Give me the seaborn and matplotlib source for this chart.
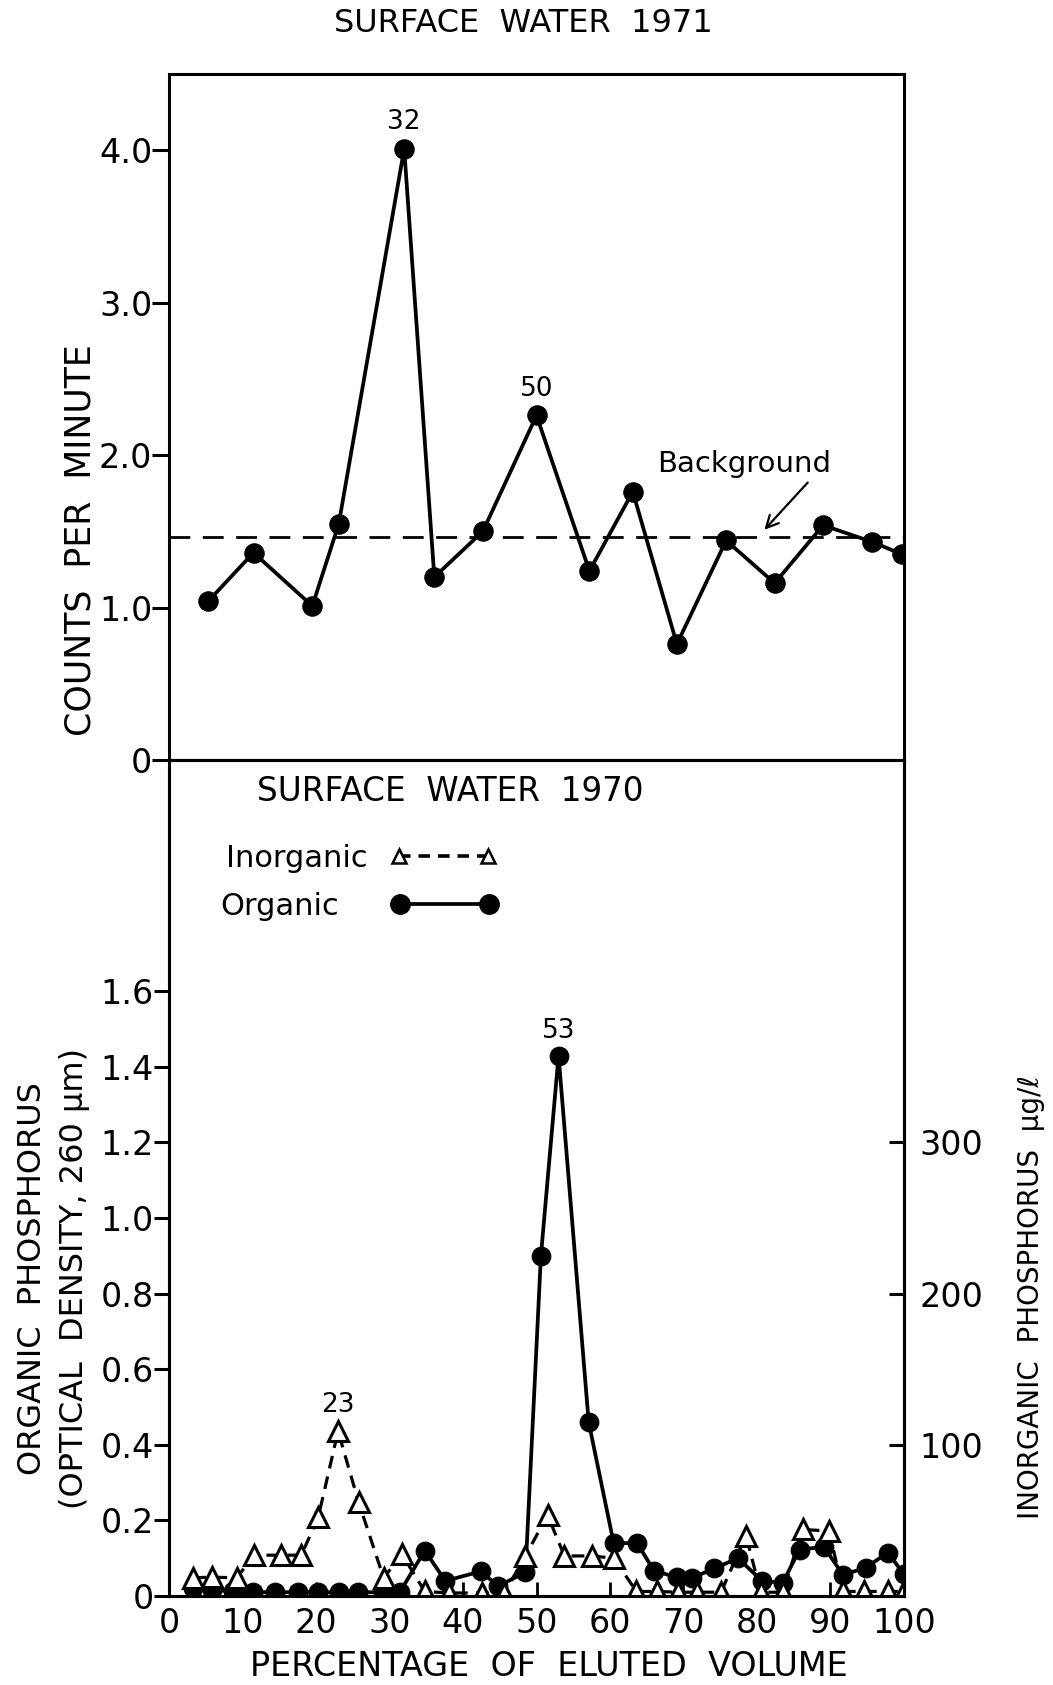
import matplotlib
matplotlib.use("Agg")
import matplotlib.pyplot as plt
from matplotlib.lines import Line2D
import pandas as pd
import seaborn as sns

# ---- Surface water 1971: counts per minute along the eluted volume ----
cpm_x = [5.3, 11.5, 19.5, 23.1, 32, 36.1, 42.7, 50, 57.2, 63.1,
         69.1, 75.8, 82.4, 89.0, 95.7, 99.7]
cpm_y = [1.04, 1.36, 1.01, 1.55, 4.01, 1.20, 1.50, 2.26, 1.24, 1.76,
         0.76, 1.44, 1.16, 1.54, 1.43, 1.35]
background_cpm = 1.46
peak_labels_1971 = ["32", "50"]

# ---- Surface water 1970: organic (OD at 260) and inorganic (ug/l) phosphorus ----
org_x = [3.3, 5.8, 8.7, 11.4, 14.4, 17.5, 20.3, 23.1, 25.7, 29.1,
         31.4, 34.8, 37.6, 42.4, 44.8, 48.5, 50.6, 53, 57.1, 60.5,
         63.7, 66.0, 69.1, 71.2, 74.2, 77.4, 80.7, 83.5, 85.8, 89.1,
         91.7, 94.8, 97.8, 100]
org_y = [0.02, 0.015, 0.013, 0.01, 0.01, 0.01, 0.01, 0.01, 0.01, 0.01,
         0.01, 0.12, 0.04, 0.065, 0.026, 0.063, 0.90, 1.43, 0.46, 0.14,
         0.14, 0.066, 0.05, 0.048, 0.073, 0.10, 0.04, 0.035, 0.123, 0.13,
         0.056, 0.075, 0.115, 0.057]
inorg_x = [3.3, 5.8, 9.2, 11.6, 15.3, 18.0, 20.3, 23, 25.8, 29.2,
           31.7, 34.8, 38.1, 42.6, 45.6, 48.5, 51.5, 53.8, 57.5, 60.5,
           63.6, 66.4, 69.3, 71.9, 75.1, 78.5, 80.5, 83.5, 86.2, 89.8,
           91.7, 94.6, 97.8, 100]
inorg_y = [12, 12.5, 12, 27, 27, 27, 52, 109, 62, 12,
           27.5, 3, 2, 2, 2, 26.5, 53.5, 26.5, 26.5, 25,
           3, 3, 2.5, 2.5, 2.5, 40, 2.5, 2.5, 44, 43,
           3, 3, 3, 3]
peak_org = (53, 1.43, "53")
peak_inorg = (23, 109, "23")

x_ticks = list(range(0, 101, 10))
cpm_ticks = [0, 1.0, 2.0, 3.0, 4.0]
cpm_tick_labels = ["0", "1.0", "2.0", "3.0", "4.0"]
od_ticks = [0, 0.2, 0.4, 0.6, 0.8, 1.0, 1.2, 1.4, 1.6]
od_tick_labels = ["0", "0.2", "0.4", "0.6", "0.8", "1.0", "1.2", "1.4", "1.6"]
ugl_ticks = [100, 200, 300]
ugl_tick_labels = ["100", "200", "300"]
OD_TO_UGL = 250.0  # 0.4 OD units on the left scale = 100 ug/l on the right

sns.set_theme(style="ticks")
plt.rcParams["font.family"] = ["DejaVu Sans"]
for key in ("text.color", "axes.labelcolor", "xtick.color", "ytick.color",
            "axes.edgecolor"):
    plt.rcParams[key] = "black"
plt.rcParams["axes.linewidth"] = 2.2

W, H = 1053, 1685
fig = plt.figure(figsize=(W / 100, H / 100), dpi=100)
left, right = 169, 904
ax1 = fig.add_axes([left / W, (H - 760) / H, (right - left) / W, 686 / H])
ax2 = fig.add_axes([left / W, (H - 1596) / H, (right - left) / W, 836 / H], sharex=ax1)

df71 = pd.DataFrame({"pct": cpm_x, "cpm": cpm_y})
df_org = pd.DataFrame({"pct": org_x, "od": org_y})
df_inorg = pd.DataFrame({"pct": inorg_x, "ugl": inorg_y})

# ---------------- upper panel ----------------
sns.lineplot(data=df71, x="pct", y="cpm", ax=ax1, color="black", linewidth=2.7,
             marker="o", markersize=14, markeredgecolor="black",
             markerfacecolor="black", estimator=None, sort=False)
ax1.axhline(background_cpm, color="black", linewidth=2.0,
            linestyle=(0, (7.5, 4.5)), zorder=1)
for lab in peak_labels_1971:
    xv = float(lab)
    yv = cpm_y[cpm_x.index(xv)]
    ax1.annotate(lab, (xv, yv), xytext=(0, 19), textcoords="offset points",
                 ha="center", va="center", fontsize=19)
ax1.text(78.3, 1.94, "Background", ha="center", va="center", fontsize=21)
ax1.annotate("", xy=(81.0, 1.51), xytext=(86.9, 1.82),
             arrowprops=dict(arrowstyle="->", lw=1.6, color="black",
                             mutation_scale=22, shrinkA=0, shrinkB=0))
ax1.set_xlim(0, 100)
ax1.set_ylim(0, 4.5)
ax1.set_yticks(cpm_ticks)
ax1.set_yticklabels(cpm_tick_labels)
ax1.tick_params(axis="y", direction="out", length=12, width=2.2,
                labelsize=24, pad=0)
ax1.tick_params(axis="x", bottom=False, labelbottom=False)
ax1.set_xlabel("")
ax1.set_ylabel("COUNTS  PER  MINUTE", fontsize=25, ha="center", va="center")
ax1.yaxis.set_label_coords(-0.121, 0.32)
fig.text(523 / W, 1 - 24 / H, "SURFACE  WATER  1971", ha="center",
         va="center", fontsize=23)

# ---------------- lower panel ----------------
ax3 = ax2.twinx()
sns.lineplot(data=df_org, x="pct", y="od", ax=ax2, color="black", linewidth=2.7,
             marker="o", markersize=13.5, markeredgecolor="black",
             markerfacecolor="black", estimator=None, sort=False, zorder=3)
sns.lineplot(data=df_inorg, x="pct", y="ugl", ax=ax3, color="black",
             linewidth=2.3, linestyle=(0, (4, 2.6)), marker="^",
             markersize=14.5, markerfacecolor="white", markeredgecolor="black",
             markeredgewidth=2.2, estimator=None, sort=False)
ax2.annotate(peak_org[2], (peak_org[0], peak_org[1]), xytext=(0, 18),
             textcoords="offset points", ha="center", va="center", fontsize=19)
ax3.annotate(peak_inorg[2], (peak_inorg[0], peak_inorg[1]), xytext=(0, 19),
             textcoords="offset points", ha="center", va="center", fontsize=19)

ax2.set_xlim(0, 100)
ax2.set_ylim(0, 2.212)
ax3.set_ylim(0, 2.212 * OD_TO_UGL)
ax2.set_xticks(x_ticks)
ax2.set_xticklabels([str(t) for t in x_ticks])
ax2.set_yticks(od_ticks)
ax2.set_yticklabels(od_tick_labels)
ax3.set_yticks(ugl_ticks)
ax3.set_yticklabels(ugl_tick_labels)
ax2.tick_params(axis="y", direction="out", length=11, width=2.2,
                labelsize=24, pad=0)
ax2.tick_params(axis="x", direction="in", length=10, width=2.0,
                labelsize=24, pad=8)
ax3.tick_params(axis="y", direction="in", length=11, width=2.2,
                labelsize=24, pad=11)

ax2.set_xlabel("PERCENTAGE  OF  ELUTED  VOLUME", fontsize=24,
               ha="center", va="center")
ax2.xaxis.set_label_coords(0.517, -0.084)
ax2.set_ylabel("ORGANIC  PHOSPHORUS\n(OPTICAL  DENSITY, 260 μm)",
               fontsize=23, ha="center", va="center", linespacing=1.45)
ax2.yaxis.set_label_coords(-0.157, 0.38)
ax3.set_ylabel("INORGANIC  PHOSPHORUS  μg/ℓ", fontsize=20, rotation=90,
               ha="center", va="center")
ax3.yaxis.set_label_coords(1.173, 0.358)

ax2.text(0.382, 0.962, "SURFACE  WATER  1970", transform=ax2.transAxes,
         ha="center", va="center", fontsize=23.5)

# key: label text first, sample line with a marker at each end
inorg_key = Line2D([], [], color="black", linewidth=2.6, linestyle=(0, (3.2, 2.2)),
                   marker="^", markersize=10, markerfacecolor="white",
                   markeredgecolor="black", markeredgewidth=1.8)
org_key = Line2D([], [], color="black", linewidth=2.7, marker="o",
                 markersize=14, markerfacecolor="black",
                 markeredgecolor="black")
key_style = dict(markerfirst=False, numpoints=2, frameon=False, fontsize=22,
                 handlelength=3.5, loc="upper left", borderaxespad=0,
                 borderpad=0)
leg1 = ax2.legend([inorg_key], ["Inorganic"], handletextpad=0.75,
                  bbox_to_anchor=(0.077, 0.900), **key_style)
ax2.add_artist(leg1)
ax2.legend([org_key], ["Organic"], handletextpad=1.7,
           bbox_to_anchor=(0.070, 0.842), **key_style)

for ax in (ax1, ax2, ax3):
    for sp in ax.spines.values():
        sp.set_visible(True)
        sp.set_linewidth(2.2)
        sp.set_color("black")

fig.savefig("out.png", dpi=100, facecolor="white")
